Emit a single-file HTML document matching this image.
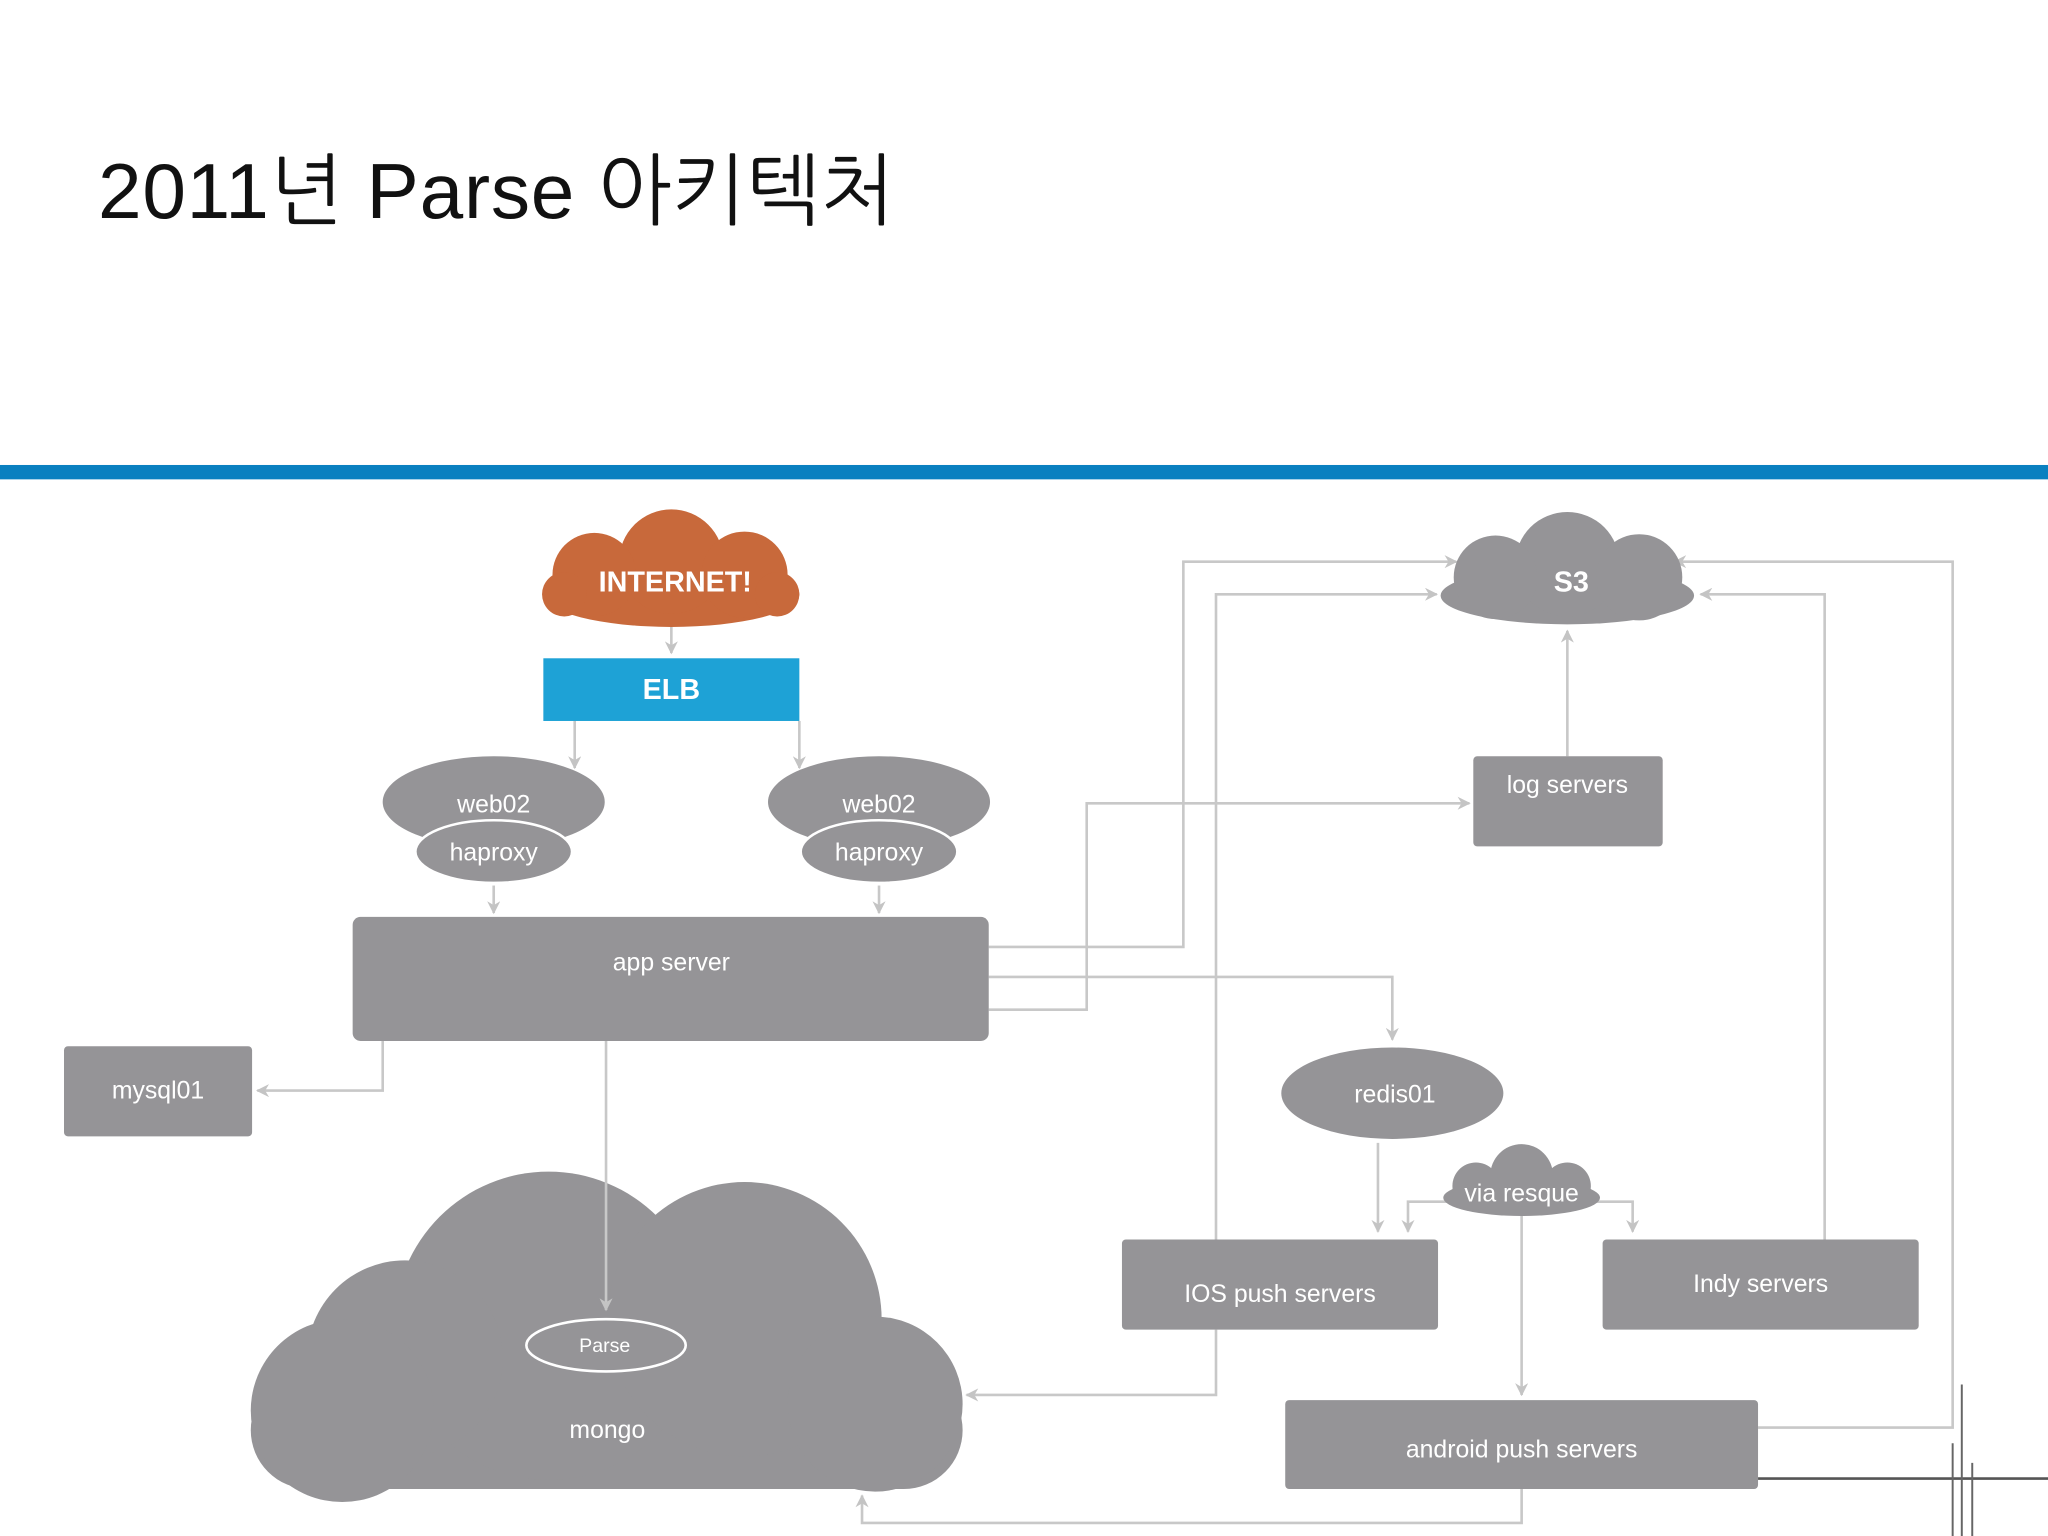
<!DOCTYPE html>
<html><head><meta charset="utf-8"><style>
html,body{margin:0;padding:0;background:#fff;}
svg{display:block}
text{font-family:"Liberation Sans","NanumGothic","Noto Sans CJK KR",sans-serif;}
</style></head><body>
<svg width="2048" height="1536" viewBox="0 0 1568 1176" xmlns="http://www.w3.org/2000/svg">
<defs>
<marker id="a" markerWidth="10" markerHeight="10" refX="9" refY="5" orient="auto" markerUnits="userSpaceOnUse">
<path d="M0,0 L10,5 L0,10 L3,5 Z" fill="#c4c4c4"/></marker>
</defs>
<rect width="1568" height="1176" fill="#fff"/>
<text x="75" y="167" font-size="60" fill="#111" textLength="610">2011년 Parse 아키텍처</text>
<rect x="0" y="356" width="1568" height="11" fill="#0a80c0"/>

<g fill="none" stroke="#c8c8c8" stroke-width="2">
<path d="M514,480 V500" marker-end="url(#a)"/>
<path d="M440,552 V588" marker-end="url(#a)"/>
<path d="M612,552 V588" marker-end="url(#a)"/>
<path d="M378,678 V699" marker-end="url(#a)"/>
<path d="M673,678 V699" marker-end="url(#a)"/>
<path d="M293,797 V835 H197" marker-end="url(#a)"/>
<path d="M757,725 H906 V430 H1115" marker-end="url(#a)"/>
<path d="M757,748 H1066 V796" marker-end="url(#a)"/>
<path d="M757,773 H832 V615 H1125" marker-end="url(#a)"/>
<path d="M1200,579 V483" marker-end="url(#a)"/>
<path d="M1055,875 V943" marker-end="url(#a)"/>
<path d="M1108,920 H1078 V943" marker-end="url(#a)"/>
<path d="M1222,920 H1250 V943" marker-end="url(#a)"/>
<path d="M1165,930 V1068" marker-end="url(#a)"/>
<path d="M931,949 V455 H1100" marker-end="url(#a)"/>
<path d="M931,1018 V1068 H740" marker-end="url(#a)"/>
<path d="M1397,949 V455 H1302" marker-end="url(#a)"/>
<path d="M1346,1093 H1495 V430 H1282" marker-end="url(#a)"/>
<path d="M1165,1140 V1166 H660 V1145" marker-end="url(#a)"/>
</g>
<path d="M1346,1132 H1568" stroke="#555" stroke-width="2"/>
<path d="M1502,1060 V1176 M1495,1105 V1176 M1510,1120 V1176" stroke="#666" stroke-width="1.5"/>

<g fill="#c8693b">
<ellipse cx="514" cy="455" rx="98" ry="25"/>
<circle cx="514" cy="430" r="40"/>
<circle cx="455" cy="440" r="32"/>
<circle cx="570" cy="440" r="33"/>
<circle cx="432" cy="455" r="17"/>
<circle cx="595" cy="455" r="17"/>
</g>
<text x="517" y="453" font-size="22" font-weight="bold" fill="#fff" text-anchor="middle">INTERNET!</text>
<rect x="416" y="504" width="196" height="48" fill="#1ea2d6"/>
<text x="514" y="535" font-size="22" font-weight="bold" fill="#fff" text-anchor="middle">ELB</text>

<g fill="#959497">
<ellipse cx="378" cy="614" rx="85" ry="35"/>
<ellipse cx="673" cy="614" rx="85" ry="35"/>
<rect x="270" y="702" width="487" height="95" rx="6"/>
<rect x="49" y="801" width="144" height="69" rx="3"/>
<rect x="1128" y="579" width="145" height="69" rx="3"/>
<ellipse cx="1066" cy="837" rx="85" ry="35"/>
<rect x="859" y="949" width="242" height="69" rx="3"/>
<rect x="1227" y="949" width="242" height="69" rx="3"/>
<rect x="984" y="1072" width="362" height="68" rx="3"/>
<ellipse cx="1200" cy="456" rx="97" ry="22"/>
<circle cx="1200" cy="432" r="40"/>
<circle cx="1145" cy="442" r="32"/>
<circle cx="1255" cy="442" r="33"/>
<ellipse cx="1165" cy="917" rx="60" ry="14"/>
<circle cx="1165" cy="900" r="24"/>
<circle cx="1130" cy="908" r="18"/>
<circle cx="1200" cy="908" r="18"/>
<rect x="192" y="1050" width="545" height="90" rx="45"/>
<circle cx="420" cy="1015" r="118"/>
<circle cx="310" cy="1040" r="75"/>
<circle cx="570" cy="1010" r="105"/>
<circle cx="262" cy="1080" r="70"/>
<circle cx="670" cy="1075" r="67"/>
</g>
<path d="M464,797 V1003" fill="none" stroke="#c8c8c8" stroke-width="2" marker-end="url(#a)"/>
<ellipse cx="378" cy="652" rx="60" ry="24" fill="#959497" stroke="#fff" stroke-width="2"/>
<ellipse cx="673" cy="652" rx="60" ry="24" fill="#959497" stroke="#fff" stroke-width="2"/>
<ellipse cx="464" cy="1030" rx="61" ry="20" fill="#959497" stroke="#fff" stroke-width="2"/>

<g fill="#fff" font-size="19" text-anchor="middle">
<text x="1203" y="453" font-size="22" font-weight="bold">S3</text>
<text x="378" y="622">web02</text>
<text x="378" y="659">haproxy</text>
<text x="673" y="622">web02</text>
<text x="673" y="659">haproxy</text>
<text x="514" y="743">app server</text>
<text x="121" y="841">mysql01</text>
<text x="1200" y="607">log servers</text>
<text x="1068" y="844">redis01</text>
<text x="1165" y="920">via resque</text>
<text x="980" y="997">IOS push servers</text>
<text x="1348" y="989">Indy servers</text>
<text x="1165" y="1116">android push servers</text>
<text x="463" y="1035" font-size="15">Parse</text>
<text x="465" y="1101">mongo</text>
</g>
</svg>
</body></html>
